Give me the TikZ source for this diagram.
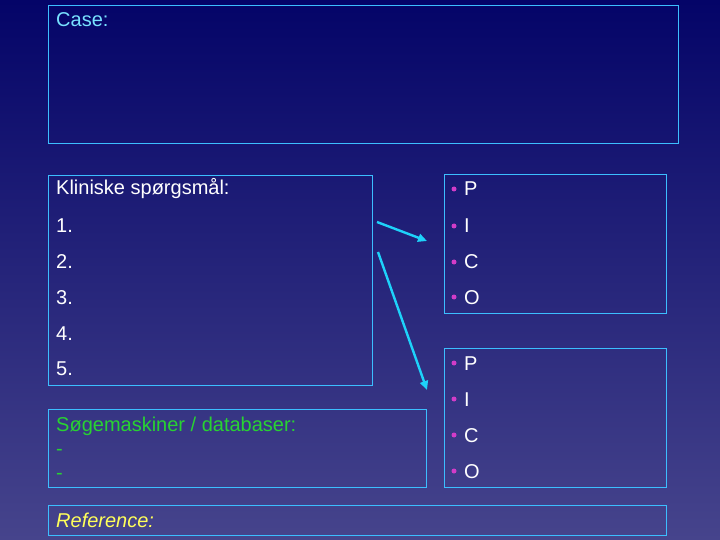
\documentclass[tikz,border=0pt]{standalone}
\usepackage{fontspec}
\setmainfont{Liberation Sans}
\usetikzlibrary{arrows.meta}
\definecolor{bgtop}{RGB}{4,4,104}
\definecolor{bgbot}{RGB}{70,68,140}
\definecolor{boxline}{RGB}{60,190,255}
\definecolor{casecol}{RGB}{120,225,255}
\definecolor{greencol}{RGB}{40,210,50}
\definecolor{yellowcol}{RGB}{255,255,90}
\definecolor{bulletcol}{RGB}{210,60,200}
\definecolor{arrowcol}{RGB}{30,210,250}
\begin{document}
\begin{tikzpicture}[x=1bp,y=-1bp,
  panel/.style={draw=boxline, line width=1.2bp, inner sep=0pt, anchor=north west},
  txt/.style={anchor=base west, inner sep=0pt, font=\fontsize{20bp}{24bp}\selectfont, text=white},
  bul/.style={circle, fill=bulletcol, inner sep=0pt, minimum size=5bp},
  link/.style={draw=arrowcol, line width=2.4bp, -{Triangle[length=9bp,width=8bp]}}]
\useasboundingbox (0,0) rectangle (720,540);
\shade[top color=bgtop, bottom color=bgbot] (0,0) rectangle (720,540);

% boxes
\node[panel, minimum width=630bp, minimum height=138bp] (casebox) at (48,5) {};
\node[panel, minimum width=324bp, minimum height=210bp] (klin) at (48,175) {};
\node[panel, minimum width=222bp, minimum height=139bp] (pico1) at (444,174) {};
\node[panel, minimum width=222bp, minimum height=139bp] (pico2) at (444,348) {};
\node[panel, minimum width=378bp, minimum height=78bp] (soeg) at (48,409) {};
\node[panel, minimum width=618bp, minimum height=30bp] (ref) at (48,505) {};

% case
\node[txt, text=casecol] (casetxt) at (56,27) {Case:};

% clinical questions
\node[txt] (k0) at (56,195) {Kliniske spørgsmål:};
\node[txt] (k1) at (56,233) {1.};
\node[txt] (k2) at (56,269) {2.};
\node[txt] (k3) at (56,304) {3.};
\node[txt] (k4) at (56,340) {4.};
\node[txt] (k5) at (56,375) {5.};

% PICO 1
\node[bul] (b1p) at (454,189) {};
\node[bul] (b1i) at (454,226) {};
\node[bul] (b1c) at (454,262) {};
\node[bul] (b1o) at (454,297) {};
\node[txt] (p1p) at (464,196) {P};
\node[txt] (p1i) at (464,233) {I};
\node[txt] (p1c) at (464,269) {C};
\node[txt] (p1o) at (464,304) {O};

% PICO 2
\node[bul] (b2p) at (454,363) {};
\node[bul] (b2i) at (454,399) {};
\node[bul] (b2c) at (454,435) {};
\node[bul] (b2o) at (454,471) {};
\node[txt] (p2p) at (464,370) {P};
\node[txt] (p2i) at (464,406) {I};
\node[txt] (p2c) at (464,442) {C};
\node[txt] (p2o) at (464,478) {O};

% search engines
\node[txt, text=greencol] (s0) at (56,431) {Søgemaskiner / databaser:};
\node[txt, text=greencol] (s1) at (56,455) {-};
\node[txt, text=greencol] (s2) at (56,479) {-};

% reference
\node[txt, text=yellowcol, font=\fontsize{20bp}{24bp}\selectfont\itshape] (reftxt) at (56,527) {Reference:};

% arrows
\coordinate (a1s) at (377,222);
\coordinate (a1e) at (427,241);
\coordinate (a2s) at (378,252);
\coordinate (a2e) at (427,390);
\draw[link] (a1s) -- (a1e);
\draw[link] (a2s) -- (a2e);
\end{tikzpicture}
\end{document}
